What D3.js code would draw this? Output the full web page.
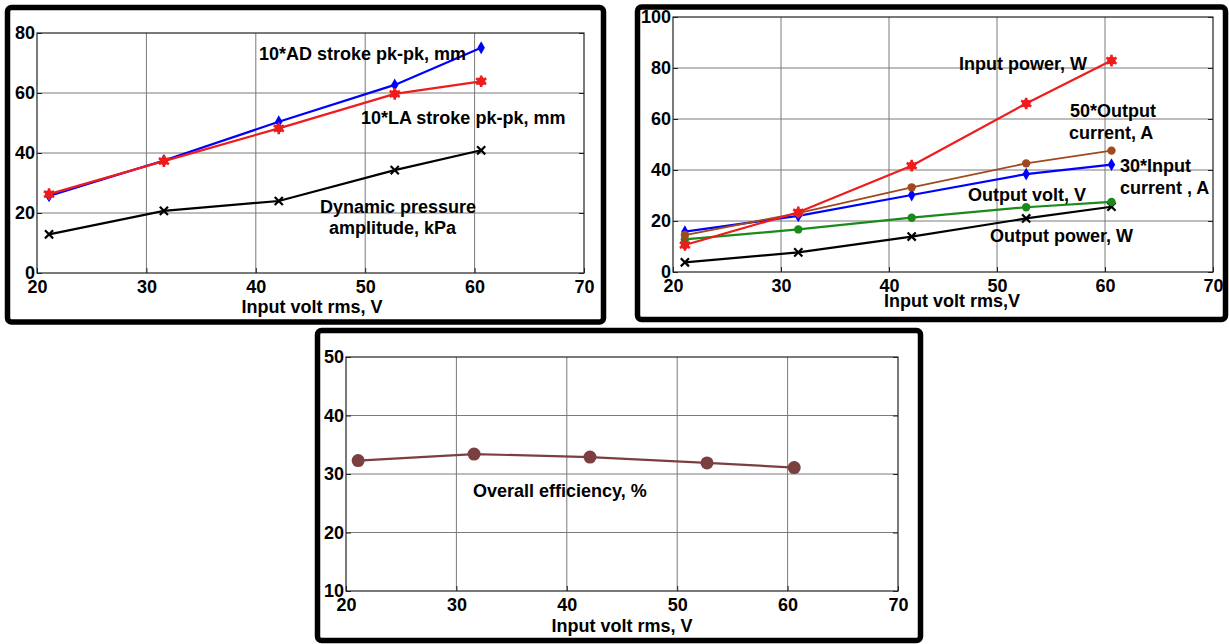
<!DOCTYPE html>
<html>
<head>
<meta charset="utf-8">
<script src="https://cdn.jsdelivr.net/npm/d3@7"></script>
<style>
  body { margin: 0; background: #fff; }
  svg { display: block; font-family: "Liberation Sans", Arial, sans-serif; font-weight: bold; }
  .tick text { font-size: 18px; fill: #000; }
</style>
</head>
<body>
<svg id="chart" width="1229" height="644"></svg>
<script>
// input voltage (x) shared by every panel
var voltage = [21.1, 31.6, 42.1, 52.7, 60.6];
var xTicks = [20, 30, 40, 50, 60, 70];

// panel 1
var adStroke = [25.7, 37.5, 50.4, 62.7, 75.1];
var laStroke = [26.3, 37.3, 48.2, 59.7, 63.9];
var pressure = [12.9, 20.7, 24.0, 34.3, 40.9];
var yTicks1 = [0, 20, 40, 60, 80];

// panel 2
var inputPower = [10.6, 23.4, 41.7, 66.1, 82.9];
var outputCurrent50 = [14.5, 23.1, 33.2, 42.6, 47.6];
var inputCurrent30 = [15.8, 22.0, 30.2, 38.4, 42.1];
var outputVolt = [12.8, 16.7, 21.3, 25.4, 27.5];
var outputPower = [3.8, 7.7, 13.9, 21.0, 25.6];
var yTicks2 = [0, 20, 40, 60, 80, 100];

// panel 3
var efficiency = [32.3, 33.4, 32.9, 31.9, 31.1];
var yTicks3 = [10, 20, 30, 40, 50];

var svg = d3.select("#chart");
svg.append("rect").attr("width", 1229).attr("height", 644).attr("fill", "#fff");

function drawPanel(cfg) {
  var g = svg.append("g");

  // outer frame
  g.append("rect")
    .attr("x", cfg.frame[0]).attr("y", cfg.frame[1])
    .attr("width", cfg.frame[2]).attr("height", cfg.frame[3])
    .attr("rx", 4)
    .attr("fill", "none").attr("stroke", "#000").attr("stroke-width", 5.5);

  var x = d3.scaleLinear().domain([20, 70]).range([cfg.left, cfg.right]);
  var y = d3.scaleLinear().domain(cfg.yDomain).range([cfg.bottom, cfg.top]);

  // grid
  g.append("g").selectAll("line").data(xTicks.slice(1, -1)).enter().append("line")
    .attr("x1", function(d) { return x(d); }).attr("x2", function(d) { return x(d); })
    .attr("y1", cfg.top).attr("y2", cfg.bottom)
    .attr("stroke", "#7a7a7a").attr("stroke-width", 1);
  g.append("g").selectAll("line").data(cfg.yTicks.slice(1, -1)).enter().append("line")
    .attr("x1", cfg.left).attr("x2", cfg.right)
    .attr("y1", function(d) { return y(d); }).attr("y2", function(d) { return y(d); })
    .attr("stroke", "#7a7a7a").attr("stroke-width", 1);

  // plot box
  g.append("rect")
    .attr("x", cfg.left).attr("y", cfg.top)
    .attr("width", cfg.right - cfg.left).attr("height", cfg.bottom - cfg.top)
    .attr("fill", "none").attr("stroke", "#222").attr("stroke-width", 1.2);

  // axes
  var xAxis = g.append("g")
    .attr("transform", "translate(0," + cfg.bottom + ")")
    .call(d3.axisBottom(x).tickValues(xTicks).tickSize(-5).tickPadding(0).tickFormat(d3.format("d")));
  xAxis.select(".domain").remove();
  xAxis.selectAll(".tick line").attr("stroke", "#222");
  xAxis.selectAll(".tick text").attr("dy", null).attr("y", 20);

  var yAxis = g.append("g")
    .attr("transform", "translate(" + cfg.left + ",0)")
    .call(d3.axisLeft(y).tickValues(cfg.yTicks).tickSize(-5).tickPadding(2).tickFormat(d3.format("d")));
  yAxis.select(".domain").remove();
  yAxis.selectAll(".tick line").attr("stroke", "#222");

  var yAxisR = g.append("g")
    .attr("transform", "translate(" + cfg.right + ",0)")
    .call(d3.axisRight(y).tickValues(cfg.yTicks).tickSize(-5).tickFormat(""));
  yAxisR.select(".domain").remove();
  yAxisR.selectAll(".tick line").attr("stroke", "#222");

  // axis title
  g.append("text")
    .attr("x", cfg.xLabel[0]).attr("y", cfg.xLabel[1])
    .attr("text-anchor", "middle").attr("font-size", 18)
    .text(cfg.xLabel[2]);

  // series
  var line = d3.line()
    .x(function(d) { return x(d[0]); })
    .y(function(d) { return y(d[1]); });

  cfg.series.forEach(function(s) {
    var pts = voltage.map(function(v, i) { return [v, s.values[i]]; });
    g.append("path")
      .datum(pts)
      .attr("d", line)
      .attr("fill", "none")
      .attr("stroke", s.color)
      .attr("stroke-width", s.width || 2.2);

    var m = g.append("g").selectAll("g").data(pts).enter().append("g")
      .attr("transform", function(d) { return "translate(" + x(d[0]) + "," + y(d[1]) + ")"; });

    if (s.marker === "diamond") {
      m.append("path").attr("d", d3.symbol(d3.symbolDiamond, 48)).attr("fill", s.color);
    } else if (s.marker === "star") {
      m.append("circle").attr("r", 4.2).attr("fill", s.color);
      m.append("path").attr("d", d3.symbol(d3.symbolAsterisk, 95))
        .attr("fill", "none").attr("stroke", s.color).attr("stroke-width", 2.6);
    } else if (s.marker === "x") {
      m.append("path").attr("d", d3.symbol(d3.symbolX, 45))
        .attr("fill", "none").attr("stroke", s.color).attr("stroke-width", 2.2);
    } else if (s.marker === "dot") {
      m.append("circle").attr("r", s.r || 4).attr("fill", s.color);
    }
  });

  // annotations
  cfg.notes.forEach(function(n) {
    g.append("text")
      .attr("x", n[0]).attr("y", n[1])
      .attr("font-size", 18)
      .text(n[2]);
  });
}

drawPanel({
  frame: [7.5, 7.5, 596, 314.5],
  left: 37, right: 584, top: 33, bottom: 273,
  yDomain: [0, 80], yTicks: yTicks1,
  xLabel: [312, 313, "Input volt rms, V"],
  series: [
    { values: pressure, color: "#000", marker: "x" },
    { values: adStroke, color: "#0000ff", marker: "diamond" },
    { values: laStroke, color: "#ee1c1c", marker: "star" }
  ],
  notes: [
    [259, 60, "10*AD stroke pk-pk, mm"],
    [361, 124, "10*LA stroke pk-pk, mm"],
    [320, 213, "Dynamic pressure"],
    [329, 234, "amplitude, kPa"]
  ]
});

drawPanel({
  frame: [637.5, 7, 588, 312.5],
  left: 673, right: 1213, top: 17, bottom: 272,
  yDomain: [0, 100], yTicks: yTicks2,
  xLabel: [952, 307, "Input volt rms,V"],
  series: [
    { values: outputPower, color: "#000", marker: "x" },
    { values: outputVolt, color: "#1a8a1a", marker: "dot", r: 4.2 },
    { values: inputCurrent30, color: "#0000ff", marker: "diamond" },
    { values: outputCurrent50, color: "#a0491d", marker: "dot", r: 4.2, width: 1.8 },
    { values: inputPower, color: "#ee1c1c", marker: "star" }
  ],
  notes: [
    [959, 70, "Input power, W"],
    [1070, 117, "50*Output"],
    [1069, 139, "current, A"],
    [1120, 172, "30*Input"],
    [1120, 194, "current , A"],
    [968, 201, "Output volt, V"],
    [990, 242, "Output power, W"]
  ]
});

drawPanel({
  frame: [317.5, 330.5, 603, 310],
  left: 346, right: 898, top: 357, bottom: 591,
  yDomain: [10, 50], yTicks: yTicks3,
  xLabel: [622, 632, "Input volt rms, V"],
  series: [
    { values: efficiency, color: "#7b3f3f", marker: "dot", r: 6.5 }
  ],
  notes: [
    [473, 497, "Overall efficiency, %"]
  ]
});
</script>
</body>
</html>
